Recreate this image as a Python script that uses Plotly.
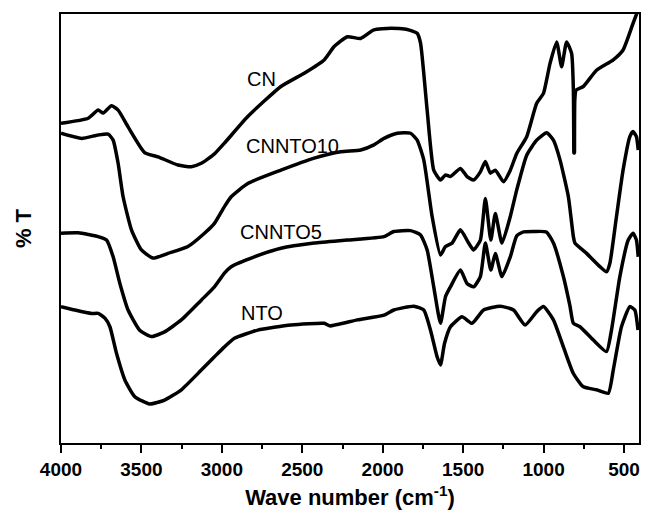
import plotly.graph_objects as go

# FTIR spectra: wavenumber (cm-1) and transmittance (arbitrary % T, offset traces)
cn_wn = [4000, 3831, 3769, 3738, 3686, 3645, 3583, 3480, 3397, 3273, 3190, 3128, 3046, 2984,
         2839, 2633, 2488, 2364, 2302, 2220, 2137, 2055, 1951, 1848, 1786, 1765, 1724, 1683,
         1641, 1610, 1579, 1517, 1476, 1435, 1393, 1362, 1331, 1300, 1249, 1207, 1167, 1105,
         1043, 1001, 960, 919, 888, 857, 826, 815, 812, 810, 808, 806, 798, 753, 671, 567,
         506, 444, 413]
cn_t = [74.5, 75.7, 77.6, 76.9, 78.6, 77.6, 73.7, 67.7, 66.7, 64.8, 64.4, 65.2, 67.4, 69.9,
        76.1, 83.1, 86.2, 89.3, 92.4, 94.7, 94.3, 96.3, 96.7, 96.4, 95.5, 93.2, 77.6, 63.6,
        61.3, 62.5, 62.1, 64.0, 62.1, 61.3, 63.2, 65.6, 62.9, 63.6, 60.9, 63.6, 67.5, 71.4,
        79.2, 81.5, 88.5, 93.5, 87.7, 93.5, 90.8, 82.3, 67.6, 80.0, 67.6, 80.0, 82.3, 83.1,
        86.9, 89.3, 91.6, 97.8, 100.9]

cnnto10_wn = [4000, 3872, 3769, 3707, 3676, 3645, 3614, 3562, 3500, 3428, 3335, 3211, 3108,
              3046, 2984, 2942, 2839, 2633, 2426, 2261, 2137, 2055, 1992, 1910, 1827, 1786,
              1745, 1693, 1641, 1610, 1569, 1517, 1466, 1435, 1393, 1362, 1328, 1300, 1259,
              1207, 1167, 1105, 1043, 981, 939, 898, 846, 815, 805, 733, 650, 609, 588, 547,
              506, 464, 444, 423, 412]
cnnto10_t = [72.2, 71.0, 71.8, 72.0, 70.6, 65.2, 57.4, 49.7, 45.0, 43.1, 44.2, 45.8, 48.9,
             51.2, 55.1, 57.4, 60.5, 63.6, 66.4, 67.9, 68.3, 69.5, 71.0, 72.2, 72.2, 70.6,
             66.0, 52.8, 43.8, 45.8, 46.6, 49.7, 46.6, 45.0, 47.3, 57.0, 47.3, 53.5, 46.6,
             52.8, 59.0, 67.1, 70.6, 72.3, 70.6, 66.0, 57.4, 48.1, 46.6, 44.2, 41.1, 39.9,
             41.9, 52.8, 63.6, 71.4, 72.6, 71.4, 68.3]

cnnto5_wn = [4000, 3893, 3769, 3717, 3676, 3634, 3583, 3511, 3438, 3356, 3252, 3128, 3046,
             2984, 2942, 2798, 2633, 2426, 2220, 1992, 1931, 1827, 1765, 1724, 1683, 1641,
             1610, 1579, 1517, 1476, 1435, 1393, 1362, 1328, 1300, 1259, 1207, 1167, 1125,
             1063, 983, 939, 877, 836, 815, 774, 691, 609, 578, 526, 474, 444, 423, 412]
cnnto5_t = [48.9, 49.0, 48.1, 47.3, 43.4, 37.2, 31.0, 26.3, 24.8, 25.9, 28.7, 33.3, 36.4,
            39.6, 41.1, 43.4, 45.4, 46.6, 47.3, 48.1, 49.3, 49.5, 48.5, 45.0, 36.4, 27.9,
            34.1, 36.4, 40.3, 37.2, 36.4, 38.8, 46.6, 40.3, 44.2, 38.8, 43.4, 48.3, 49.2,
            49.3, 49.2, 46.6, 38.8, 31.9, 27.9, 27.1, 24.0, 21.3, 26.3, 38.8, 47.3, 48.9,
            47.3, 43.4]

nto_wn = [4000, 3913, 3810, 3769, 3727, 3696, 3655, 3603, 3541, 3449, 3356, 3252, 3128, 3046,
          2984, 2922, 2777, 2571, 2364, 2330, 2158, 1992, 1931, 1807, 1745, 1703, 1662, 1641,
          1616, 1579, 1507, 1445, 1373, 1269, 1187, 1115, 1043, 1001, 939, 877, 815, 753, 671,
          598, 567, 516, 464, 433, 413]
nto_t = [31.8, 31.0, 30.2, 30.2, 29.1, 27.1, 20.9, 14.7, 10.8, 9.1, 10.0, 12.4, 17.0, 20.1,
         22.4, 24.4, 26.3, 27.5, 27.9, 27.3, 28.7, 29.8, 31.0, 31.9, 31.0, 26.3, 20.1, 18.2,
         23.2, 27.1, 29.4, 27.9, 31.0, 31.9, 31.0, 27.5, 30.6, 31.8, 28.7, 22.4, 16.2, 13.1,
         12.4, 11.6, 17.0, 27.1, 31.8, 31.0, 26.3]

labels = ["CN", "CNNTO10", "CNNTO5", "NTO"]
label_wn = [2755, 2563, 2631, 2748]
label_t = [84.8, 69.2, 49.2, 30.3]

x_ticks = [4000, 3500, 3000, 2500, 2000, 1500, 1000, 500]

FONT = "Arial, Liberation Sans, sans-serif"

fig = go.Figure()
for wn, t in [(cn_wn, cn_t), (cnnto10_wn, cnnto10_t), (cnnto5_wn, cnnto5_t), (nto_wn, nto_t)]:
    fig.add_trace(go.Scatter(x=wn, y=t, mode="lines",
                             line=dict(color="black", width=3.5, shape="spline", smoothing=0.5),
                             showlegend=False, hoverinfo="skip"))

for name, xw, yt in zip(labels, label_wn, label_t):
    fig.add_annotation(x=xw, y=yt, text=name, showarrow=False,
                       font=dict(family=FONT, size=20, color="black"),
                       xanchor="center", yanchor="middle")

fig.update_xaxes(range=[4000, 407], tickvals=x_ticks,
                 ticktext=[str(v) for v in x_ticks],
                 ticks="outside", ticklen=8, tickwidth=2, tickcolor="black",
                 minor=dict(ticks="outside", ticklen=4, tickwidth=2, dtick=250,
                            tickcolor="black", tick0=0),
                 showline=True, linewidth=2, linecolor="black", mirror=True,
                 showgrid=False, zeroline=False,
                 tickfont=dict(family=FONT, size=19, color="black", weight="bold"),
                 title=dict(text="Wave number (cm<sup>-1</sup>)", standoff=11,
                            font=dict(family=FONT, size=22, color="black", weight="bold")))
fig.update_yaxes(range=[0, 100], showticklabels=False, ticks="",
                 showline=True, linewidth=2, linecolor="black", mirror=True,
                 showgrid=False, zeroline=False,
                 title=dict(text="% T", standoff=21,
                            font=dict(family=FONT, size=22, color="black", weight="bold")))

fig.update_layout(width=645, height=511, margin=dict(l=61, r=4, t=14, b=68),
                  plot_bgcolor="white", paper_bgcolor="white")

fig.write_html("out.html")
